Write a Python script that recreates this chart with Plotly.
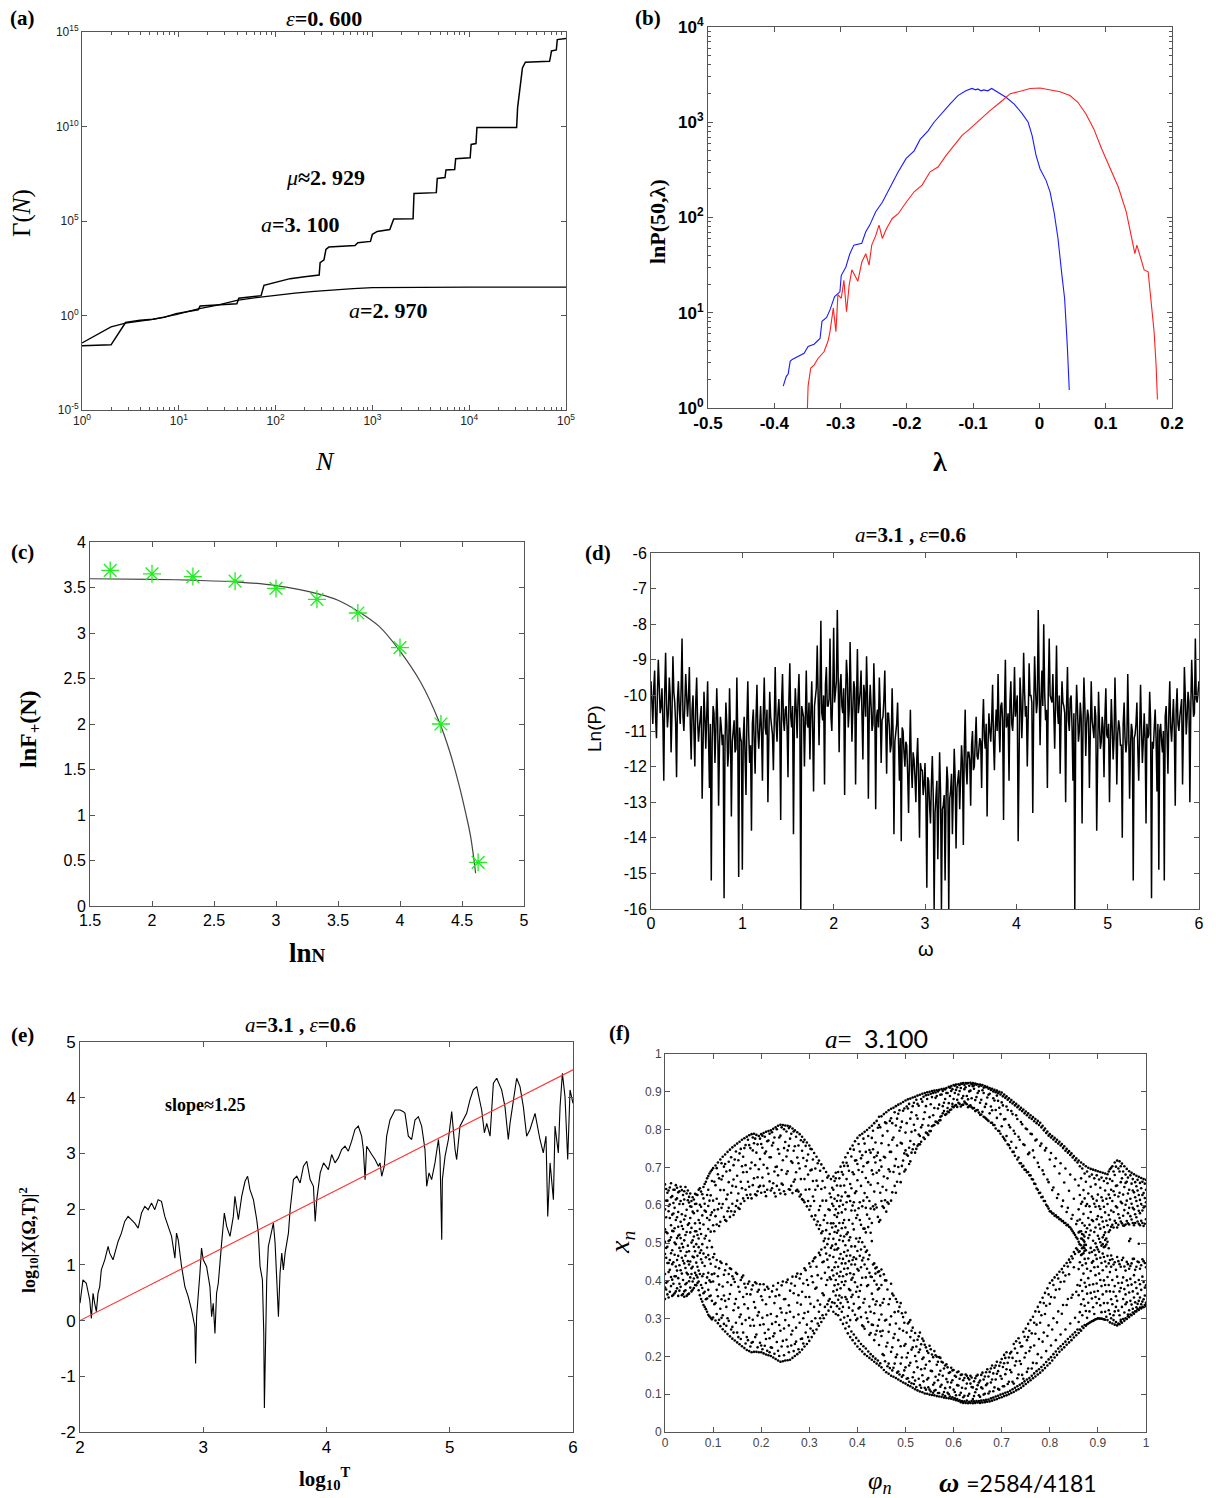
import plotly.graph_objects as go

W, H = 1216, 1498
SERIF = "Liberation Serif"
SANS = "Liberation Sans"

# ---------------- (a) Gamma(N) staircase data (log10 values) ----------------
a31_log10N = [0, 0.30, 0.45, 0.60, 0.73, 0.85, 0.97, 1.10, 1.20, 1.22, 1.40, 1.60, 1.62, 1.85, 1.88,
              2.00, 2.10, 2.15, 2.30, 2.45, 2.46, 2.50, 2.52, 2.55, 2.82, 2.85, 2.98, 3.00, 3.05, 3.18,
              3.22, 3.42, 3.43, 3.66, 3.67, 3.75, 3.76, 3.85, 3.86, 4.01, 4.02, 4.07, 4.08, 4.49, 4.50,
              4.52, 4.55, 4.58, 4.83, 4.84, 4.85, 4.90, 4.91, 5.00]
a31_log10G = [-1.60, -1.55, -0.37, -0.25, -0.20, -0.10, 0.10, 0.20, 0.30, 0.50, 0.55, 0.62, 0.91, 1.05, 1.60,
              1.75, 1.85, 1.95, 2.05, 2.14, 2.80, 2.95, 3.50, 3.62, 3.70, 3.85, 3.92, 4.30, 4.45, 4.55,
              5.10, 5.12, 6.45, 6.50, 7.25, 7.30, 7.70, 7.72, 8.30, 8.35, 9.05, 9.10, 9.95, 9.95, 11.0,
              11.9, 13.1, 13.4, 13.45, 13.7, 14.0, 14.05, 14.6, 14.65]
a297_log10N = [0, 0.30, 0.45, 0.73, 0.97, 1.20, 1.40, 1.60, 1.80, 2.00, 2.20, 2.40, 2.60, 2.80, 3.00, 3.50, 4.00, 5.00]
a297_log10G = [-1.45, -0.60, -0.40, -0.20, 0.05, 0.35, 0.55, 0.80, 0.95, 1.08, 1.18, 1.28, 1.36, 1.42, 1.47, 1.49, 1.50, 1.50]

# ---------------- (b) distributions (lambda, log10 P) ----------------
blue_pts = [(-0.3865, 0.23), (-0.382, 0.33), (-0.379, 0.36), (-0.376, 0.49), (-0.373, 0.51), (-0.364, 0.54),
            (-0.355, 0.575), (-0.349, 0.645), (-0.340, 0.67), (-0.331, 0.73), (-0.328, 0.91), (-0.321, 0.95),
            (-0.316, 1.03), (-0.309, 1.17), (-0.301, 1.22), (-0.299, 1.39), (-0.292, 1.48), (-0.286, 1.62),
            (-0.280, 1.71), (-0.268, 1.73), (-0.262, 1.85), (-0.256, 1.92), (-0.247, 2.06), (-0.237, 2.16),
            (-0.228, 2.28), (-0.219, 2.39), (-0.213, 2.48), (-0.201, 2.62), (-0.189, 2.70), (-0.180, 2.82),
            (-0.168, 2.91), (-0.159, 3.00), (-0.147, 3.10), (-0.135, 3.19), (-0.123, 3.28), (-0.111, 3.33),
            (-0.102, 3.355), (-0.096, 3.34), (-0.093, 3.35), (-0.088, 3.33), (-0.084, 3.34), (-0.078, 3.33),
            (-0.072, 3.355), (-0.0625, 3.31), (-0.050, 3.26), (-0.038, 3.19), (-0.026, 3.09), (-0.017, 3.00),
            (-0.011, 2.86), (-0.005, 2.65), (0.001, 2.51), (0.010, 2.39), (0.016, 2.27), (0.022, 2.06),
            (0.028, 1.78), (0.034, 1.39), (0.038, 1.15), (0.042, 0.66), (0.045, 0.19)]
red_pts = [(-0.350, 0.0), (-0.349, 0.23), (-0.345, 0.42), (-0.340, 0.45), (-0.334, 0.52), (-0.325, 0.59),
           (-0.319, 0.70), (-0.316, 0.80), (-0.311, 1.05), (-0.307, 0.80), (-0.304, 1.19), (-0.299, 1.15),
           (-0.295, 1.34), (-0.291, 1.01), (-0.287, 1.29), (-0.283, 1.45), (-0.279, 1.40), (-0.274, 1.33),
           (-0.268, 1.53), (-0.262, 1.62), (-0.257, 1.50), (-0.253, 1.71), (-0.247, 1.81), (-0.242, 1.92),
           (-0.237, 1.78), (-0.231, 1.88), (-0.222, 1.99), (-0.213, 2.04), (-0.201, 2.16), (-0.189, 2.27),
           (-0.177, 2.34), (-0.165, 2.48), (-0.153, 2.53), (-0.141, 2.65), (-0.129, 2.755), (-0.117, 2.86),
           (-0.105, 2.93), (-0.090, 3.03), (-0.075, 3.12), (-0.059, 3.21), (-0.044, 3.30), (-0.026, 3.33),
           (-0.014, 3.355), (0.001, 3.36), (0.016, 3.34), (0.031, 3.32), (0.046, 3.28), (0.058, 3.21),
           (0.070, 3.09), (0.082, 2.93), (0.094, 2.72), (0.107, 2.51), (0.119, 2.32), (0.131, 2.06),
           (0.140, 1.74), (0.144, 1.62), (0.147, 1.71), (0.152, 1.60), (0.158, 1.45), (0.164, 1.43),
           (0.167, 1.22), (0.173, 0.80), (0.176, 0.45), (0.178, 0.09)]

# ---------------- (c) lnF+(N) vs lnN ----------------
c_lnN = [1.663, 2.0, 2.33, 2.67, 3.0, 3.33, 3.66, 4.0, 4.33, 4.63]
c_lnF = [3.688, 3.65, 3.62, 3.57, 3.49, 3.37, 3.22, 2.84, 2.0, 0.48]
c_fit_lnN = [1.5, 2.0, 2.32, 2.7, 3.0, 3.34, 3.5, 3.66, 3.83, 4.0, 4.17, 4.32, 4.40, 4.48, 4.53, 4.57, 4.61]
c_fit_lnF = [3.596, 3.59, 3.58, 3.56, 3.52, 3.43, 3.36, 3.24, 3.075, 2.80, 2.45, 2.01, 1.70, 1.31, 1.02, 0.76, 0.36]

# ---------------- (d) power spectrum Ln(P), sampled every 0.01 in omega ----------------
d_omega_step = 0.01
d_lnP = [
    -9.6, -10.4, -10.8, -9.8, -9.3, -10.6, -11.2, -10.0, -9.0, -9.7, -10.5, -10.3, -9.8, -10.7, -12.4, -9.9, -8.8, -10.2, -10.9, -10.5,
    -9.5, -10.0, -11.6, -10.5, -8.9, -9.9, -10.2, -10.8, -12.3, -10.1, -9.6, -10.4, -10.8, -9.8, -8.4, -10.6, -11.0, -10.3, -9.4, -10.0,
    -10.6, -10.1, -9.2, -10.8, -11.8, -10.4, -10.0, -11.0, -12.0, -10.2, -9.5, -10.7, -11.3, -10.9, -10.4, -10.3, -12.9, -11.1, -9.9, -10.6,
    -11.5, -10.6, -9.6, -11.2, -12.6, -10.8, -15.2, -11.3, -10.3, -10.5, -11.9, -11.0, -9.8, -10.7, -13.1, -11.4, -10.6, -10.9, -11.4, -11.1,
    -15.7, -11.4, -10.2, -10.8, -12.0, -11.6, -9.8, -11.0, -13.4, -11.3, -10.9, -10.7, -11.6, -11.5, -9.5, -11.2, -15.1, -10.9, -11.2, -11.3,
    -14.9, -11.2, -10.6, -11.5, -12.8, -10.7, -9.6, -11.1, -11.9, -11.4, -13.8, -10.8, -10.4, -11.3, -12.2, -10.6, -9.7, -11.0, -11.5, -10.9,
    -10.3, -11.0, -12.4, -10.5, -9.5, -10.9, -11.1, -10.4, -13.0, -11.2, -9.9, -10.6, -10.8, -11.1, -12.1, -10.3, -9.2, -10.8, -11.3, -10.5,
    -10.1, -10.8, -13.5, -10.2, -9.4, -10.7, -11.0, -10.4, -10.3, -10.9, -12.3, -10.1, -9.1, -10.6, -10.9, -10.3, -13.9, -10.8, -9.8, -10.4,
    -11.2, -10.1, -9.4, -10.7, -16.0, -10.3, -10.5, -10.6, -12.0, -10.0, -9.3, -10.8, -10.9, -10.2, -11.8, -10.5, -9.6, -10.9, -12.7, -10.3,
    -10.0, -9.8, -8.6, -10.4, -11.4, -9.9, -7.9, -10.5, -10.7, -10.0, -12.5, -9.7, -9.2, -10.3, -10.3, -10.1, -8.4, -10.6, -11.0, -9.9,
    -8.1, -10.2, -9.9, -9.6, -7.6, -10.0, -11.6, -9.7, -9.4, -10.3, -10.5, -9.8, -12.8, -10.1, -9.0, -9.5, -10.9, -10.4, -8.5, -9.9,
    -11.3, -10.4, -9.6, -9.8, -12.5, -10.2, -8.7, -10.5, -10.2, -9.9, -9.3, -10.3, -11.8, -9.7, -10.0, -10.6, -8.9, -10.0, -12.9, -10.4,
    -9.7, -10.3, -11.0, -10.8, -9.1, -10.2, -13.2, -10.6, -10.4, -10.9, -9.5, -10.4, -11.9, -10.7, -10.6, -10.1, -9.3, -10.8, -12.2, -10.5,
    -10.5, -10.9, -11.6, -11.4, -9.8, -11.0, -13.9, -11.3, -11.1, -10.8, -10.2, -11.5, -12.4, -11.2, -14.1, -10.9, -11.0, -11.6, -12.0, -11.3,
    -11.4, -12.2, -13.3, -11.7, -10.4, -12.0, -12.6, -11.6, -11.8, -12.3, -13.0, -11.8, -11.2, -12.4, -14.0, -11.9, -12.1, -12.1, -12.8, -12.5,
    -11.9, -12.9, -15.4, -12.3, -12.4, -13.1, -13.6, -12.5, -11.7, -12.8, -16.0, -13.3, -12.9, -12.4, -14.6, -13.0, -11.6, -12.7, -16.0, -13.2,
    -13.1, -12.8, -15.2, -13.0, -12.0, -12.4, -16.0, -12.9, -12.7, -12.2, -13.9, -12.7, -11.5, -12.3, -14.3, -12.6, -12.2, -12.1, -13.2, -12.4,
    -11.4, -11.9, -14.2, -11.5, -10.4, -12.0, -12.5, -11.6, -11.6, -11.8, -13.1, -11.4, -11.0, -12.1, -12.0, -11.3, -10.6, -11.7, -11.8, -11.5,
    -11.2, -11.3, -12.6, -10.9, -10.1, -11.2, -11.5, -10.8, -13.4, -11.4, -10.5, -11.0, -11.3, -10.7, -9.7, -11.3, -12.1, -10.9, -10.4, -11.0,
    -9.4, -10.8, -11.6, -10.3, -10.2, -10.7, -13.5, -10.4, -9.0, -10.9, -10.8, -10.5, -12.4, -10.2, -9.6, -10.8, -11.0, -10.4, -9.2, -10.6,
    -10.3, -10.0, -14.1, -10.5, -9.5, -10.1, -11.2, -10.4, -8.8, -9.9, -10.6, -10.3, -12.0, -10.6, -9.1, -10.0, -10.0, -10.2, -13.3, -10.4,
    -8.9, -9.8, -10.5, -10.2, -7.6, -9.7, -11.4, -10.1, -9.3, -10.3, -8.0, -9.9, -10.7, -10.4, -12.6, -9.8, -8.4, -10.0, -10.1, -10.2,
    -9.4, -10.5, -11.5, -10.1, -8.6, -10.4, -10.8, -10.0, -12.2, -10.6, -9.6, -10.2, -10.3, -10.5, -13.0, -10.3, -9.2, -10.7, -11.0, -10.1,
    -10.0, -10.9, -12.4, -10.5, -16.0, -10.8, -9.7, -10.4, -11.3, -11.0, -10.2, -10.6, -13.6, -10.9, -9.5, -10.3, -11.7, -10.8, -10.4, -10.6,
    -12.6, -11.1, -9.6, -10.7, -11.1, -11.2, -10.3, -10.6, -13.8, -11.0, -9.9, -10.8, -11.5, -11.3, -10.6, -10.9, -12.3, -10.6, -9.8, -11.1,
    -11.2, -10.8, -13.0, -11.3, -10.1, -10.9, -11.8, -11.2, -9.5, -10.7, -12.5, -11.1, -10.7, -10.9, -11.4, -11.4, -14.0, -10.8, -10.2, -11.2,
    -11.6, -11.3, -9.4, -10.9, -12.9, -11.4, -10.8, -11.0, -15.2, -11.2, -11.1, -10.8, -10.2, -11.5, -12.4, -11.1, -9.7, -10.9, -11.9, -11.3,
    -10.5, -11.2, -13.6, -10.8, -11.2, -11.1, -9.9, -10.7, -15.7, -11.3, -11.5, -10.9, -10.4, -11.2, -12.7, -10.8, -14.9, -11.0, -10.8, -11.3,
    -11.6, -11.0, -15.2, -10.6, -10.3, -11.1, -12.2, -10.5, -9.6, -10.9, -11.3, -10.7, -10.1, -11.0, -13.1, -10.4, -9.8, -10.8, -11.0, -10.6,
    -10.4, -10.1, -12.5, -10.5, -9.2, -10.0, -11.1, -10.6, -9.9, -10.2, -13.0, -10.4, -9.0, -9.9, -10.6, -10.5, -8.4, -10.1, -10.2, -9.9,
    -9.6]

# ---------------- (e) log10|X(Omega,T)|^2 vs log10 T ----------------
e_pts = [(2.000, 0.31), (2.008, 0.49), (2.024, 0.73), (2.051, 0.67), (2.079, 0.37), (2.092, 0.04), (2.106, 0.49),
         (2.119, 0.31), (2.133, 0.16), (2.146, 0.49), (2.160, 0.61), (2.173, 0.91), (2.201, 1.09), (2.228, 1.33),
         (2.241, 1.21), (2.268, 1.09), (2.282, 1.21), (2.309, 1.42), (2.336, 1.57), (2.363, 1.78), (2.390, 1.87),
         (2.417, 1.81), (2.444, 1.75), (2.472, 1.66), (2.499, 1.93), (2.526, 2.05), (2.553, 1.99), (2.580, 2.11),
         (2.607, 1.99), (2.634, 2.17), (2.661, 2.14), (2.688, 1.87), (2.715, 1.69), (2.743, 1.51), (2.770, 1.12),
         (2.783, 1.57), (2.797, 1.45), (2.824, 0.97), (2.851, 0.61), (2.878, 0.43), (2.905, 0.19), (2.932, -0.11),
         (2.938, -0.77), (2.946, 0.07), (2.973, 0.85), (2.986, 1.30), (3.000, 1.09), (3.027, 0.97), (3.054, 0.61),
         (3.068, 0.07), (3.081, 0.31), (3.095, -0.23), (3.108, 0.49), (3.122, 0.67), (3.149, 1.39), (3.171, 1.93),
         (3.190, 1.69), (3.217, 1.51), (3.244, 1.87), (3.257, 2.23), (3.285, 1.81), (3.312, 2.23), (3.339, 2.50),
         (3.360, 2.59), (3.379, 2.35), (3.407, 2.17), (3.434, 1.81), (3.447, 1.57), (3.461, 0.97), (3.480, 0.73),
         (3.491, -0.23), (3.496, -1.57), (3.507, -0.23), (3.515, 0.73), (3.528, 1.33), (3.550, 1.57), (3.569, 1.75),
         (3.583, 1.39), (3.596, 0.73), (3.610, 0.07), (3.623, 0.85), (3.637, 1.21), (3.650, 0.91), (3.664, 1.21),
         (3.691, 1.57), (3.705, 1.99), (3.732, 2.53), (3.759, 2.59), (3.786, 2.47), (3.813, 2.77), (3.840, 2.86),
         (3.867, 2.53), (3.894, 2.41), (3.908, 1.78), (3.921, 2.17), (3.949, 2.65), (3.976, 2.83),
         (4.015, 2.71), (4.042, 2.98), (4.069, 2.83), (4.096, 2.92), (4.123, 3.07), (4.150, 3.13), (4.177, 3.04),
         (4.204, 3.22), (4.231, 3.43), (4.258, 3.49), (4.285, 3.31), (4.299, 3.07), (4.313, 2.53), (4.326, 3.13),
         (4.340, 3.07), (4.367, 2.98), (4.394, 2.89), (4.421, 2.77), (4.434, 2.83), (4.448, 2.59), (4.469, 2.77),
         (4.488, 3.31), (4.515, 3.60), (4.556, 3.78), (4.597, 3.78), (4.624, 3.75), (4.637, 3.72), (4.664, 3.31),
         (4.691, 3.25), (4.718, 3.60), (4.745, 3.66), (4.772, 3.49), (4.799, 3.07), (4.813, 2.41), (4.832, 2.65),
         (4.853, 2.53), (4.880, 2.83), (4.908, 3.25), (4.921, 2.95), (4.929, 1.93), (4.935, 1.45), (4.940, 2.53),
         (4.962, 2.95), (4.989, 3.25), (5.016, 3.75), (5.043, 3.07), (5.056, 2.89), (5.083, 3.49), (5.110, 3.60),
         (5.137, 3.72), (5.164, 3.96), (5.191, 4.14), (5.219, 4.20), (5.232, 4.05), (5.259, 3.78), (5.281, 3.37),
         (5.300, 3.54), (5.327, 3.31), (5.354, 4.26), (5.381, 4.35), (5.421, 4.14), (5.448, 3.84), (5.475, 3.25),
         (5.489, 3.54), (5.516, 3.99), (5.543, 4.35), (5.570, 4.20), (5.597, 3.84), (5.624, 3.31), (5.651, 3.43),
         (5.692, 3.72), (5.732, 3.25), (5.759, 3.01), (5.781, 3.31), (5.795, 1.87), (5.814, 2.83), (5.841, 2.17),
         (5.854, 3.49), (5.881, 3.01), (5.895, 3.84), (5.914, 4.44), (5.935, 4.02), (5.957, 2.89), (5.976, 4.14),
         (6.000, 3.90)]
e_fit_log10T = [2.0, 6.0]
e_fit_log10X2 = [0.0, 4.5]

# ---------------- (f) attractor points: "phi*1000|x*1000 ..." per column ----------------
f_left = [
    "000|352 471 589 418 655 503 382 536", "005|364 447 612 526 398 633 490",
    "010|371 508 429 647 566 455 602", "015|360 481 575 403 624 532 444",
    "020|367 539 412 641 469 593 501", "025|380 455 618 513 427 646 568",
    "030|374 522 441 637 487 603 392", "035|362 498 576 419 640 461 545",
    "040|358 446 615 507 372 637 562", "045|360 529 421 588 476 631 394",
    "050|366 478 607 399 552 622 443", "055|372 540 433 596 501 418 611",
    "060|381 462 579 517 406 615 490", "065|388 531 448 604 497 628 415",
    "070|375 489 561 427 641 512 398", "075|352 457 596 524 389 636 481",
    "080|336 549 418 618 472 367 648", "085|325 462 583 394 519 662 351",
    "090|310 537 421 641 376 598 677 468", "095|302 574 445 689 361 626 397 530",
    "2.5|395 529 461 612 377 568 643 487", "7.5|423 356 584 505 639 447 598",
    "12.5|386 547 473 621 410 658 515", "17.5|449 363 606 531 392 641 578",
    "22.5|372 497 438 653 561 412 615", "27.5|407 582 360 519 634 466 543",
    "32.5|428 611 384 556 479 649 513", "37.5|365 537 453 603 402 627 489",
    "42.5|391 572 466 648 521 375 434", "47.5|417 364 548 613 493 639 452",
    "52.5|382 451 597 528 631 409 566", "57.5|398 507 621 464 376 583 437",
    "62.5|421 552 389 603 478 630 531", "67.5|394 466 585 521 627 437 409",
    "72.5|362 537 418 601 474 645 553", "77.5|345 412 573 497 629 448 381",
    "82.5|331 586 439 656 371 512 604", "87.5|318 409 627 488 353 566 671",
    "92.5|306 359 612 457 684 401 561 506", "97.5|298 347 664 417 581 693 489",
]
f_left_eye = [
    "100|698 612 547 303 398 462", "105|705 653 571 295 341 437", "110|713 589 682 288 412 359",
    "115|721 640 556 280 451 326", "120|728 677 603 272 385 309", "125|734 561 709 266 428 347",
    "130|741 628 584 259 301 396", "135|747 692 569 253 365 433", "140|753 651 604 247 278 412",
    "145|758 721 583 242 339 397", "150|763 678 612 237 263 418", "155|768 737 590 232 371 304",
    "160|773 645 703 227 409 286", "165|777 751 611 222 338 392", "170|781 688 627 217 251 365",
    "175|785 759 649 214 302 398", "180|788 713 618 211 236 377", "185|789 671 764 212 344 281",
    "190|786 739 626 212 393 258", "195|783 695 648 211 317 376", "200|788 762 633 211 229 359",
    "205|791 707 651 208 285 391", "210|794 742 624 205 338 246", "215|796 683 771 203 379 271",
    "220|798 727 639 201 312 224", "225|802 765 658 197 387 253", "230|806 701 623 193 291 359",
    "235|810 748 679 189 215 394", "240|813 784 631 186 327 268", "245|812 719 654 187 398 241",
    "250|811 767 629 189 352 296", "255|810 690 745 190 226 403", "260|808 776 641 191 318 374",
    "265|803 712 632 196 268 411", "270|798 756 668 201 387 233", "275|793 641 726 206 342 419",
    "280|788 697 623 211 289 406", "285|781 744 616 218 371 247", "290|773 669 608 226 433 315",
    "295|766 718 597 233 284 402", "300|758 642 588 241 357 446", "305|748 694 571 251 412 293",
    "310|738 611 562 261 331 459", "315|728 665 548 271 437 382", "320|718 587 537 281 318 474",
    "325|708 643 526 291 406 483", "330|698 561 505 301 362 451", "335|688 612 534 311 389 472",
    "340|678 589 511 321 347 436", "345|669 621 552 331 404 487",
    "102.5|662 531 587 338 471 419", "107.5|617 698 549 312 455 376", "112.5|671 604 545 297 433 390",
    "117.5|593 711 668 351 302 447", "122.5|702 569 640 286 416 361", "127.5|616 689 558 331 444 281",
    "132.5|715 593 661 294 418 352", "137.5|633 584 727 271 389 431", "142.5|706 574 668 322 263 405",
    "147.5|598 742 649 289 421 352", "152.5|719 631 593 251 384 329", "157.5|662 749 604 311 246 402",
    "162.5|728 618 687 263 357 414", "167.5|641 759 706 234 382 296", "172.5|773 662 619 327 243 392",
    "177.5|697 628 751 226 364 281", "182.5|745 653 779 297 388 238", "187.5|629 776 706 251 329 396",
    "192.5|761 674 637 224 371 308", "197.5|722 651 776 283 391 236", "202.5|673 784 752 219 349 302",
    "207.5|635 737 781 262 376 228", "212.5|769 698 641 215 309 384", "217.5|727 789 663 248 357 211",
    "222.5|645 758 793 286 223 372", "227.5|779 689 632 207 341 261", "232.5|702 801 651 238 377 306",
    "237.5|641 779 736 201 283 362", "242.5|806 693 657 226 388 316", "247.5|751 637 801 203 274 351",
    "252.5|683 795 729 244 396 315", "257.5|642 757 804 211 335 282", "262.5|789 716 651 258 393 229",
    "267.5|744 662 795 214 304 367", "272.5|687 781 638 276 411 239", "277.5|758 636 711 219 362 311",
    "282.5|669 772 628 246 418 337", "287.5|725 613 767 234 301 393", "292.5|641 757 703 263 428 357",
    "297.5|734 611 681 251 389 318", "302.5|692 749 598 274 437 339", "307.5|623 721 664 268 396 452",
    "312.5|697 573 641 301 462 379", "317.5|651 711 557 287 415 348", "322.5|598 691 547 337 468 301",
    "327.5|664 531 612 309 449 367", "332.5|647 512 573 488 331 421", "337.5|673 553 497 338 456 402",
    "342.5|631 524 587 352 467 409", "347.5|646 493 604 343 428 541",
]
f_main_edge = [
    "350|318 463 598 372 676 511 414 641 552", "355|312 402 589 671 497 361 686 544 449",
    "360|309 533 391 688 437 626 350 579 486", "365|297 471 612 380 702 519 341 651 424",
    "370|286 553 412 681 331 601 458 713 505", "375|274 446 589 357 727 494 634 399 541",
    "380|261 528 344 704 433 624 307 738 480", "385|251 420 611 375 749 515 296 656 467",
    "390|243 599 321 687 455 758 363 551 408", "395|234 491 632 310 769 396 586 443 718",
    "400|226 384 666 479 778 300 574 431 709", "405|219 561 330 742 466 608 373 785 513",
    "410|213 454 688 282 597 789 408 502 732", "415|206 538 352 763 443 632 273 794 490",
    "420|201 621 386 712 480 799 301 575 432", "425|196 468 746 332 611 421 805 257 564",
    "430|191 553 284 778 410 692 366 810 505", "435|186 446 727 314 636 400 817 243 589",
    "440|181 390 686 268 594 823 346 731 436", "445|176 556 297 812 425 692 230 834 380",
    "352.5|341 436 529 617 388 664 482 574", "357.5|333 483 569 419 652 376 611 527",
    "362.5|326 412 508 597 671 459 361 553", "367.5|318 539 446 688 397 623 356 581",
    "372.5|303 476 389 652 561 704 432 517", "377.5|289 417 608 351 712 523 466 669",
    "382.5|279 561 378 691 452 624 329 507", "387.5|266 491 357 729 403 645 586 443",
    "392.5|258 417 682 339 536 747 462 608", "397.5|249 566 371 719 458 637 296 512",
    "402.5|241 503 327 693 427 762 592 357", "407.5|233 389 651 483 304 724 548 436",
    "412.5|227 612 342 776 461 538 279 703", "417.5|221 476 316 741 593 409 672 528",
    "422.5|213 542 389 783 291 661 457 714", "427.5|206 411 654 318 739 527 262 591",
    "432.5|200 597 351 797 443 682 283 748", "437.5|194 419 766 258 602 337 713 433",
    "442.5|189 377 658 281 805 423 569 739", "447.5|182 413 719 266 561 806 335 633",
]
f_main = [
    "450|835 702 611 764 171 389 254 311 430", "455|841 593 728 676 164 203 352 417",
    "460|846 817 640 583 158 297 226 401", "465|851 759 695 604 154 181 338 265",
    "470|855 830 612 741 149 392 212 306", "475|858 688 779 146 170 249 361",
    "480|862 633 811 722 143 287 198 352", "485|866 842 701 139 319 160 243",
    "490|869 765 661 806 135 227 181 341", "495|873 850 718 131 268 150 304",
    "500|877 694 792 745 128 171 316 233", "505|880 856 731 124 287 142 209",
    "510|882 770 716 829 121 251 183 296", "515|885 862 748 117 145 224 276",
    "520|887 798 739 113 201 262 136", "525|890 868 757 829 110 171 244",
    "530|892 783 761 107 124 218 263", "535|895 874 812 105 193 150 247",
    "540|897 846 775 102 117 231 168", "545|899 881 790 101 214 139",
    "550|900 833 796 99 112 187 228", "555|902 886 809 98 161 205",
    "560|903 857 812 97 130 214 109", "565|904 889 820 95 178 199",
    "570|905 866 824 94 103 152 198", "575|907 893 836 93 125 186",
    "580|908 849 871 91 168 106", "585|910 897 841 90 140 179",
    "590|913 870 846 89 100 156", "595|915 902 853 88 131 170",
    "600|918 881 859 86 112 164", "605|919 905 865 84 146 97",
    "610|920 871 893 82 123 160", "615|922 910 861 79 104 151",
    "620|923 889 866 77 137 92", "625|923 912 870 77 115 152",
    "630|923 880 859 76 96 143", "635|924 903 864 77 128 149",
    "640|923 915 856 76 87 118", "645|922 878 849 77 142 105",
    "650|920 897 852 78 124 151", "655|919 871 839 77 93 136",
    "660|918 904 847 78 115 157", "665|915 860 832 79 147 101",
    "670|913 885 826 80 128 166", "675|910 895 843 81 107 159",
    "680|908 851 818 83 139 176", "685|905 877 812 85 118 170",
    "690|903 890 831 87 154 186", "695|900 858 796 90 112 175",
    "700|898 872 809 92 141 193", "705|893 827 776 95 121 182 204",
    "710|888 861 783 97 166 211", "715|883 812 759 100 133 197",
    "720|878 849 768 103 212 158", "725|873 797 741 106 128 233",
    "730|868 838 752 110 187 240", "735|863 781 726 113 152 248",
    "740|858 820 711 117 226 180", "745|853 761 704 122 141 265",
    "750|848 803 693 127 209 274", "755|843 735 688 132 168 251 286",
    "760|838 789 679 137 296 224", "765|833 745 668 142 183 305",
    "770|828 771 656 147 260 319", "775|823 712 641 152 206 331",
    "780|818 757 633 157 289 343", "785|810 692 622 163 239 355",
    "790|803 745 611 169 312 368", "795|795 668 597 176 254 380",
    "800|788 721 584 182 339 394", "805|783 640 578 189 271 401",
    "810|778 703 572 197 356 409", "815|773 619 568 204 290 416",
    "820|768 684 563 212 378 424", "825|762 597 558 218 313 431",
    "830|756 660 553 224 398 440", "835|749 582 547 231 336 447",
    "840|743 638 543 237 417 456", "845|737 564 536 243 355 465",
    "850|730 617 526 250 436 476", "855|724 550 515 256 371 486",
    "452.5|784 649 597 206 342 268", "457.5|726 613 819 187 401 295", "462.5|796 671 608 236 377 174",
    "467.5|689 823 741 169 284 352", "472.5|773 634 817 224 366 163", "477.5|704 846 651 181 317 259",
    "482.5|758 829 662 205 344 157", "487.5|683 797 851 152 273 331", "492.5|821 704 763 197 314 146",
    "497.5|689 856 737 163 289 228", "502.5|817 734 861 141 263 197", "507.5|752 709 868 176 291 133",
    "512.5|846 794 739 129 218 268", "517.5|761 871 813 158 242 127", "522.5|838 749 879 119 226 187",
    "527.5|787 863 761 141 211 253", "532.5|881 806 768 117 232 166", "537.5|828 779 887 134 197 241",
    "542.5|862 792 891 112 178 224", "547.5|811 892 786 143 209 118", "552.5|867 796 895 107 162 219",
    "557.5|838 811 897 125 198 104", "562.5|884 821 898 146 111 203", "567.5|856 817 901 103 186 137",
    "572.5|892 834 825 120 162 196", "577.5|862 843 902 99 149 184", "582.5|881 839 906 116 176 95",
    "587.5|857 897 848 132 104 171", "592.5|889 852 911 94 158 118", "597.5|868 907 861 137 92 163",
    "602.5|897 863 916 106 149 89", "607.5|879 860 912 124 87 158", "612.5|902 868 918 98 141 84",
    "617.5|883 865 921 117 82 152", "622.5|907 874 918 96 143 81", "627.5|889 867 922 128 83 149",
    "632.5|901 862 916 101 139 80", "637.5|883 859 920 119 82 144", "642.5|908 857 917 95 134 81",
    "647.5|886 851 919 113 148 82", "652.5|902 845 914 97 131 82", "657.5|879 840 916 118 151 83",
    "662.5|897 834 911 99 139 84", "667.5|868 829 912 124 158 85", "672.5|892 823 908 102 147 86",
    "677.5|861 818 905 131 168 89", "682.5|883 812 901 108 155 91", "687.5|852 803 899 139 176 94",
    "692.5|876 797 896 114 161 96", "697.5|841 789 893 148 184 99", "702.5|864 781 888 121 172 101",
    "707.5|828 771 884 153 196 104", "712.5|852 761 879 127 183 106", "717.5|806 751 873 164 208 109",
    "722.5|841 741 869 133 196 113", "727.5|789 731 864 176 221 117", "732.5|828 721 859 142 209 121",
    "737.5|773 711 853 188 236 125", "742.5|814 702 849 151 227 129", "747.5|759 694 843 197 252 134",
    "752.5|801 687 838 159 243 139", "757.5|739 679 832 214 268 143", "762.5|788 669 828 168 261 149",
    "767.5|726 657 822 229 289 155", "772.5|774 644 817 182 284 161", "777.5|701 632 812 246 318 166",
    "782.5|763 621 806 197 309 172", "787.5|682 611 798 263 341 178", "792.5|751 601 791 214 334 185",
    "797.5|661 591 784 282 364 192", "802.5|738 583 779 229 357 198", "807.5|647 578 774 301 389 206",
    "812.5|724 573 768 243 376 213", "817.5|629 568 763 319 406 221", "822.5|711 563 758 258 397 227",
    "827.5|612 558 751 336 422 233", "832.5|697 553 744 271 414 239", "837.5|593 548 739 352 438 246",
    "842.5|681 541 733 287 449 252", "847.5|574 531 726 363 459 258", "852.5|668 521 719 302 471 264",
    "857.5|559 511 713 389 482 271",
]
f_right = [
    "860|718 652 589 528 503 476 431 362 291 262", "862|478 530 497",
    "865|713 671 604 531 512 494 468 402 338 268", "867|470 511 524 486",
    "870|708 640 577 522 507 489 473 419 351 275", "872|486 503 517 479 495",
    "875|703 662 598 529 495 481 446 384 320 281", "880|699 631 566 513 459 407 342 287",
    "885|696 649 582 533 487 426 368 291", "890|694 617 558 506 452 391 330 294",
    "895|692 655 596 541 499 468 415 357 298", "900|690 628 571 519 483 437 373 301",
    "905|688 646 590 538 502 461 402 335 300", "910|686 612 557 515 497 472 428 364 299",
    "915|684 639 581 528 508 491 451 389 318 297", "920|682 658 603 547 503 466 410 341 296",
    "925|695 669 619 562 534 455 423 372 312 290",
    "930|703 664 611 548 457 402 338 287", "935|713 680 627 559 449 386 319 284",
    "940|718 652 594 541 463 411 347 282", "945|716 689 633 566 444 372 309 285",
    "950|710 671 605 552 455 395 331 289", "955|703 648 587 546 438 378 316 294",
    "960|696 662 612 558 450 401 343 299", "965|690 641 593 549 505 432 369 322 304",
    "970|686 657 604 562 446 390 337 309", "975|682 634 589 547 458 415 356 313",
    "980|678 650 611 568 437 381 330 319", "985|675 627 585 551 498 449 402 347 323",
    "990|672 645 603 559 441 376 338 327", "995|669 632 594 545 452 397 351 330",
    "1000|667 641 608 563 436 388 342 333",
    "862.5|703 627 562 449 387 317 271", "867.5|697 609 553 441 373 309 279",
    "872.5|684 618 546 458 395 334 283", "877.5|689 603 539 432 366 302 285",
    "882.5|676 597 548 521 474 389 319 289", "887.5|681 623 561 476 448 353 293",
    "892.5|671 604 529 481 436 371 312 296", "897.5|679 612 563 489 458 393 341 299",
    "902.5|668 597 549 511 477 419 352 300", "907.5|673 621 568 493 447 386 317 300",
    "912.5|664 596 542 521 489 463 401 341 298", "917.5|671 617 559 512 496 438 372 305",
    "922.5|689 628 574 529 486 446 389 322", "927.5|699 641 586 543 467 437 351 301",
    "932.5|689 637 582 541 443 371 309 296", "937.5|702 651 597 553 429 359 331 291",
    "942.5|697 623 576 548 452 394 321 287", "947.5|703 661 609 557 437 381 297 292",
    "952.5|689 628 572 546 461 409 352 299", "957.5|681 659 601 549 427 364 338 301",
    "962.5|673 631 579 552 444 388 311 306", "967.5|679 617 571 511 439 405 347 311",
    "972.5|669 639 593 553 458 372 326 316", "977.5|661 621 576 553 429 396 343 319",
    "982.5|667 639 598 557 451 366 339 325", "987.5|659 614 579 547 432 391 356 329",
    "992.5|662 627 586 553 457 411 345 331", "997.5|657 619 597 551 447 382 361 336",
]


def parse_cols(cols):
    ph, xs = [], []
    for s in cols:
        p, vals = s.split("|")
        for v in vals.split():
            ph.append(float(p) / 1000.0)
            xs.append(int(v) / 1000.0)
    return ph, xs


f_phi, f_x = [], []
for group in (f_left, f_left_eye, f_main_edge, f_main, f_right):
    a_, b_ = parse_cols(group)
    f_phi += a_
    f_x += b_

# ---------------- figure ----------------
fig = go.Figure()

# (a)
fig.add_trace(go.Scatter(x=[10 ** v for v in a297_log10N], y=[10 ** v for v in a297_log10G],
                         mode="lines", line=dict(color="black", width=1.3), xaxis="x", yaxis="y"))
fig.add_trace(go.Scatter(x=[10 ** v for v in a31_log10N], y=[10 ** v for v in a31_log10G],
                         mode="lines", line=dict(color="black", width=1.5), xaxis="x", yaxis="y"))
# (b)
fig.add_trace(go.Scatter(x=[p[0] for p in blue_pts], y=[10 ** p[1] for p in blue_pts], mode="lines",
                         line=dict(color="#1a1aff", width=1.1), xaxis="x2", yaxis="y2"))
fig.add_trace(go.Scatter(x=[p[0] for p in red_pts], y=[10 ** p[1] for p in red_pts], mode="lines",
                         line=dict(color="#ff2020", width=1.1), xaxis="x2", yaxis="y2"))
# (c)
fig.add_trace(go.Scatter(x=c_fit_lnN, y=c_fit_lnF, mode="lines", line=dict(color="#444", width=1.2, shape="spline"),
                         xaxis="x3", yaxis="y3"))
fig.add_trace(go.Scatter(x=c_lnN, y=c_lnF, mode="markers",
                         marker=dict(symbol="asterisk-open", size=15, color="#22ee22",
                                     line=dict(color="#22ee22", width=1.3)),
                         xaxis="x3", yaxis="y3"))
# (d)
fig.add_trace(go.Scatter(x=[i * d_omega_step for i in range(len(d_lnP))], y=d_lnP, mode="lines",
                         line=dict(color="black", width=1.5), xaxis="x4", yaxis="y4"))
# (e)
fig.add_trace(go.Scatter(x=[p[0] for p in e_pts], y=[p[1] for p in e_pts], mode="lines",
                         line=dict(color="black", width=1.1), xaxis="x5", yaxis="y5"))
fig.add_trace(go.Scatter(x=e_fit_log10T, y=e_fit_log10X2, mode="lines",
                         line=dict(color="#ff3030", width=1.1), xaxis="x5", yaxis="y5"))
# (f)
fig.add_trace(go.Scatter(x=f_phi, y=f_x, mode="markers",
                         marker=dict(size=2.6, color="black", line=dict(width=0)),
                         xaxis="x6", yaxis="y6"))


def dx(l, r):
    return [l / W, r / W]


def dy(t, b):
    return [1 - b / H, 1 - t / H]


base = dict(showline=True, linecolor="#555", linewidth=1, mirror="ticks", ticks="inside", ticklen=5,
            tickcolor="#555", showgrid=False, zeroline=False, fixedrange=True, automargin=False)

minor_a = [m * 10 ** d for d in range(5) for m in range(2, 10)]
minor_b = [m * 10 ** d for d in range(4) for m in range(2, 10)]

layout = dict(
    width=W, height=H, margin=dict(l=0, r=0, t=0, b=0, pad=0, autoexpand=False), autosize=False,
    showlegend=False, paper_bgcolor="white", plot_bgcolor="white",
    # (a)
    xaxis=dict(base, domain=dx(82, 566), anchor="y", type="log", range=[0, 5],
               tickvals=[10 ** k for k in range(6)], ticktext=["10<sup>%d</sup>" % k for k in range(6)],
               tickfont=dict(family=SANS, size=12, color="#222"),
               minor=dict(tickvals=minor_a, ticks="inside", ticklen=3, tickcolor="#555")),
    yaxis=dict(base, domain=dy(32, 410), anchor="x", type="log", range=[-5, 15],
               tickvals=[1e-5, 1, 1e5, 1e10, 1e15], ticktext=["10<sup>%d</sup>" % k for k in (-5, 0, 5, 10, 15)],
               tickfont=dict(family=SANS, size=12, color="#222")),
    # (b)
    xaxis2=dict(base, domain=dx(708, 1172), anchor="y2", range=[-0.5, 0.2],
                tickvals=[-0.5, -0.4, -0.3, -0.2, -0.1, 0, 0.1, 0.2],
                ticktext=["<b>%s</b>" % t for t in ["-0.5", "-0.4", "-0.3", "-0.2", "-0.1", "0", "0.1", "0.2"]],
                tickfont=dict(family=SANS, size=17, color="black")),
    yaxis2=dict(base, domain=dy(27, 408), anchor="x2", type="log", range=[0, 4],
                tickvals=[1, 10, 100, 1000, 10000], ticktext=["<b>10<sup>%d</sup></b>" % k for k in range(5)],
                tickfont=dict(family=SANS, size=17, color="black"),
                minor=dict(tickvals=minor_b, ticks="inside", ticklen=3, tickcolor="#555")),
    # (c)
    xaxis3=dict(base, domain=dx(90, 524), anchor="y3", range=[1.5, 5], dtick=0.5,
                tickfont=dict(family=SANS, size=16, color="black")),
    yaxis3=dict(base, domain=dy(542, 906), anchor="x3", range=[0, 4], dtick=0.5,
                tickfont=dict(family=SANS, size=16, color="black")),
    # (d)
    xaxis4=dict(base, domain=dx(651, 1199), anchor="y4", range=[0, 6], dtick=1,
                tickfont=dict(family=SANS, size=16, color="black")),
    yaxis4=dict(base, domain=dy(553, 909), anchor="x4", range=[-16, -6],
                tickvals=list(range(-16, -5)), ticktext=["-%d" % k for k in range(16, 5, -1)],
                tickfont=dict(family=SANS, size=16, color="black")),
    # (e)
    xaxis5=dict(base, domain=dx(80, 573), anchor="y5", range=[2, 6], dtick=1,
                tickfont=dict(family=SANS, size=17, color="black")),
    yaxis5=dict(base, domain=dy(1042, 1432), anchor="x5", range=[-2, 5],
                tickvals=list(range(-2, 6)), ticktext=["-2", "-1", "0", "1", "2", "3", "4", "5"],
                tickfont=dict(family=SANS, size=17, color="black")),
    # (f)
    xaxis6=dict(base, domain=dx(665, 1146), anchor="y6", range=[0, 1],
                tickvals=[k / 10 for k in range(11)],
                ticktext=["0"] + ["0.%d" % k for k in range(1, 10)] + ["1"],
                tickfont=dict(family=SANS, size=12, color="#444")),
    yaxis6=dict(base, domain=dy(1054, 1432), anchor="x6", range=[0, 1],
                tickvals=[k / 10 for k in range(11)],
                ticktext=["0"] + ["0.%d" % k for k in range(1, 10)] + ["1"],
                tickfont=dict(family=SANS, size=12, color="#444")),
)
fig.update_layout(**layout)

ann = []


def txt(x, y, text, size, family=SERIF, rot=0, color="black"):
    ann.append(dict(x=x / W, y=1 - y / H, xref="paper", yref="paper", text=text, showarrow=False,
                    font=dict(size=size, family=family, color=color), textangle=rot,
                    xanchor="center", yanchor="middle"))


# panel letters
txt(22, 18, "<b>(a)</b>", 21)
txt(648, 18, "<b>(b)</b>", 21)
txt(22, 552, "<b>(c)</b>", 21)
txt(598, 553, "<b>(d)</b>", 21)
txt(22, 1035, "<b>(e)</b>", 21)
txt(619, 1033, "<b>(f)</b>", 21)

# (a)
txt(324, 18, "<i>ε</i><b>=0. 600</b>", 22)
txt(325, 178, "<i>μ</i><b>≈2. 929</b>", 22)
txt(300, 224, "<i>a</i><b>=3. 100</b>", 22)
txt(388, 310, "<i>a</i><b>=2. 970</b>", 22)
txt(22, 213, "Γ(<i>N</i>)", 25, rot=-90)
txt(325, 462, "<i>N</i>", 26)
# (b)
txt(657, 222, "<b>lnP(50,λ)</b>", 22, rot=-90)
txt(940, 462, "<b>λ</b>", 28)
# (c)
txt(30, 729, "<b>lnF<sub>+</sub>(N)</b>", 24, rot=-90)
txt(307, 953, "<b>ln<span style='font-size:19px'>N</span></b>", 27)
# (d)
txt(910, 535, "<i>a</i><b>=3.1 , </b><i>ε</i><b>=0.6</b>", 21)
txt(594, 729, "Ln(P)", 19, family=SANS, rot=-90)
txt(926, 949, "ω", 20, family=SANS)
# (e)
txt(300, 1025, "<i>a</i><b>=3.1 , </b><i>ε</i><b>=0.6</b>", 21)
txt(205, 1105, "<b>slope≈1.25</b>", 18)
txt(28, 1240, "<b>log<sub>10</sub>|X(Ω,T)|<sup>2</sup></b>", 18, rot=-90)
txt(325, 1478, "<b>log<sub>10</sub><sup>T</sup></b>", 21)
# (f)
txt(876, 1038, "<i>a</i>=  <span style='font-family:Lato'>3.100</span>", 25)
txt(621, 1243, "<i>x<sub>n</sub></i>", 28, rot=-90)
txt(879, 1482, "<i>φ<sub>n</sub></i>", 26)
txt(1018, 1482, "<b><i>ω</i></b> <span style='font-family:Lato;font-size:23px'>=2584/4181</span>", 28)

fig.update_layout(annotations=ann)
fig.write_html("out.html",
               post_script="document.body.style.margin='0px';document.body.style.overflow='hidden';")
